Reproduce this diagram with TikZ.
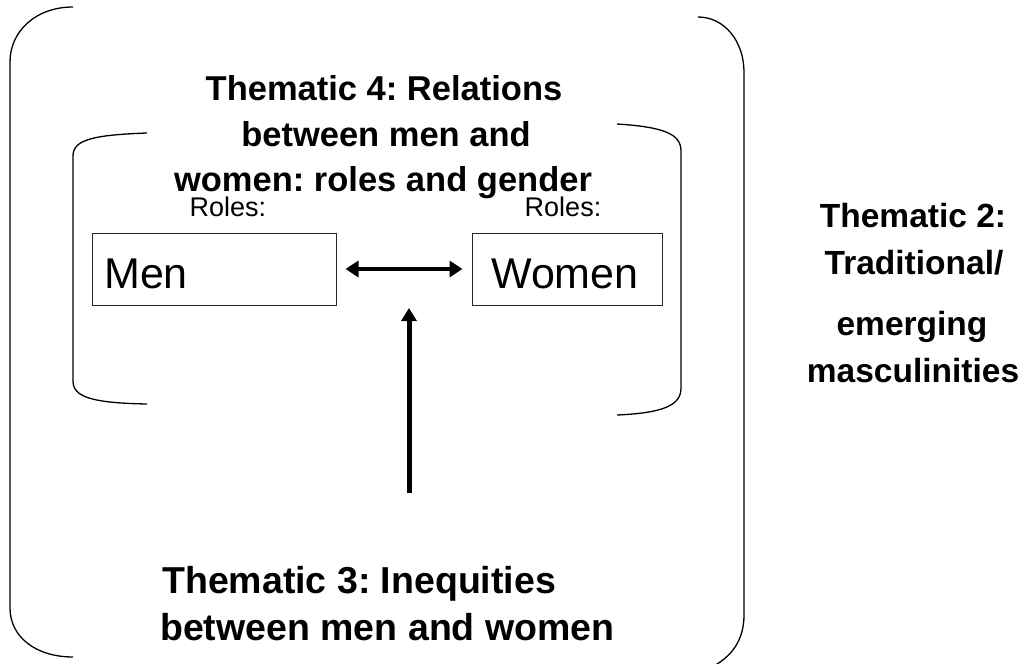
\documentclass[tikz,border=0pt]{standalone}
\usepackage{fontspec}
\setmainfont{Liberation Sans}
\usetikzlibrary{arrows.meta}
\frenchspacing
\tikzset{
  bracket/.style={line width=1.3pt, black},
  rolebox/.style={draw=black!85, line width=1pt, minimum height=72pt, inner sep=0pt},
  bigtxt/.style={inner sep=0pt, font=\fontsize{34.5}{40}\selectfont\bfseries},
  sidetxt/.style={inner sep=0pt, font=\fontsize{33.5}{40}\selectfont\bfseries},
  bottxt/.style={inner sep=0pt, font=\fontsize{37.5}{44}\selectfont\bfseries},
  roletxt/.style={inner sep=0pt, font=\fontsize{27}{30}\selectfont},
  conn/.style={line width=4.5pt, {Triangle[length=13pt,width=16pt]}-{Triangle[length=13pt,width=16pt]}},
  upconn/.style={line width=5pt, -{Triangle[length=13pt,width=15pt]}}
}
\begin{document}
\begin{tikzpicture}[x=1pt,y=-1pt]
\useasboundingbox (0,0) rectangle (1029,664);
% outer bracket
\draw[bracket] (73,7) .. controls (36,7) and (10,31) .. (10,62) -- (10,608) .. controls (10,637) and (36,657) .. (73,657);
\draw[bracket] (698,17) .. controls (725,17) and (744,42) .. (744,72) -- (744,615) .. controls (744,640) and (732,657) .. (710,668);
% inner bracket
\draw[bracket] (147,133) .. controls (92,135) and (73,140) .. (73,156) -- (73,381) .. controls (73,397) and (92,403) .. (147,404);
\draw[bracket] (617,124) .. controls (664,127) and (681,134) .. (681,151) -- (681,388) .. controls (681,405) and (664,413) .. (617,415);
% texts thematic 4
\node[bigtxt, anchor=base] (t4a) at (384,100) {Thematic 4: Relations};
\node[bigtxt, anchor=base] (t4b) at (386,146) {between men and};
\node[bigtxt, anchor=base] (t4c) at (383,191) {women: roles and gender};
% roles
\node[roletxt, anchor=base] (r1) at (228,216) {Roles:};
\node[roletxt, anchor=base] (r2) at (563,216) {Roles:};
% boxes
\node[rolebox, minimum width=244pt] (men) at (214,269) {};
\node[rolebox, minimum width=190pt] (women) at (567,269) {};
\node[inner sep=0pt, anchor=base west, font=\fontsize{43}{48}\selectfont] (mentxt) at (104,288) {Men};
\node[inner sep=0pt, anchor=base west, font=\fontsize{43}{48}\selectfont] (womentxt) at (491,288) {Women};
% double arrow
\draw[conn, shorten <=9pt, shorten >=9pt] (men.east) -- (women.west);
% thematic 3
\node[bottxt, anchor=base west] (t3a) at (162,593) {Thematic 3: Inequities};
\node[bottxt, anchor=base west] (t3b) at (160,640) {between men and women};
\coordinate (upstart) at (409,493);
\coordinate (upend) at (409,308);
\draw[upconn] (upstart) -- (upend);
% thematic 2
\node[sidetxt, anchor=base] (t2a) at (913,227) {Thematic 2:};
\node[sidetxt, anchor=base] (t2b) at (914,274) {Traditional/};
\node[sidetxt, anchor=base] (t2c) at (912,335) {emerging};
\node[sidetxt, anchor=base] (t2d) at (913,382) {masculinities};
\end{tikzpicture}
\end{document}
